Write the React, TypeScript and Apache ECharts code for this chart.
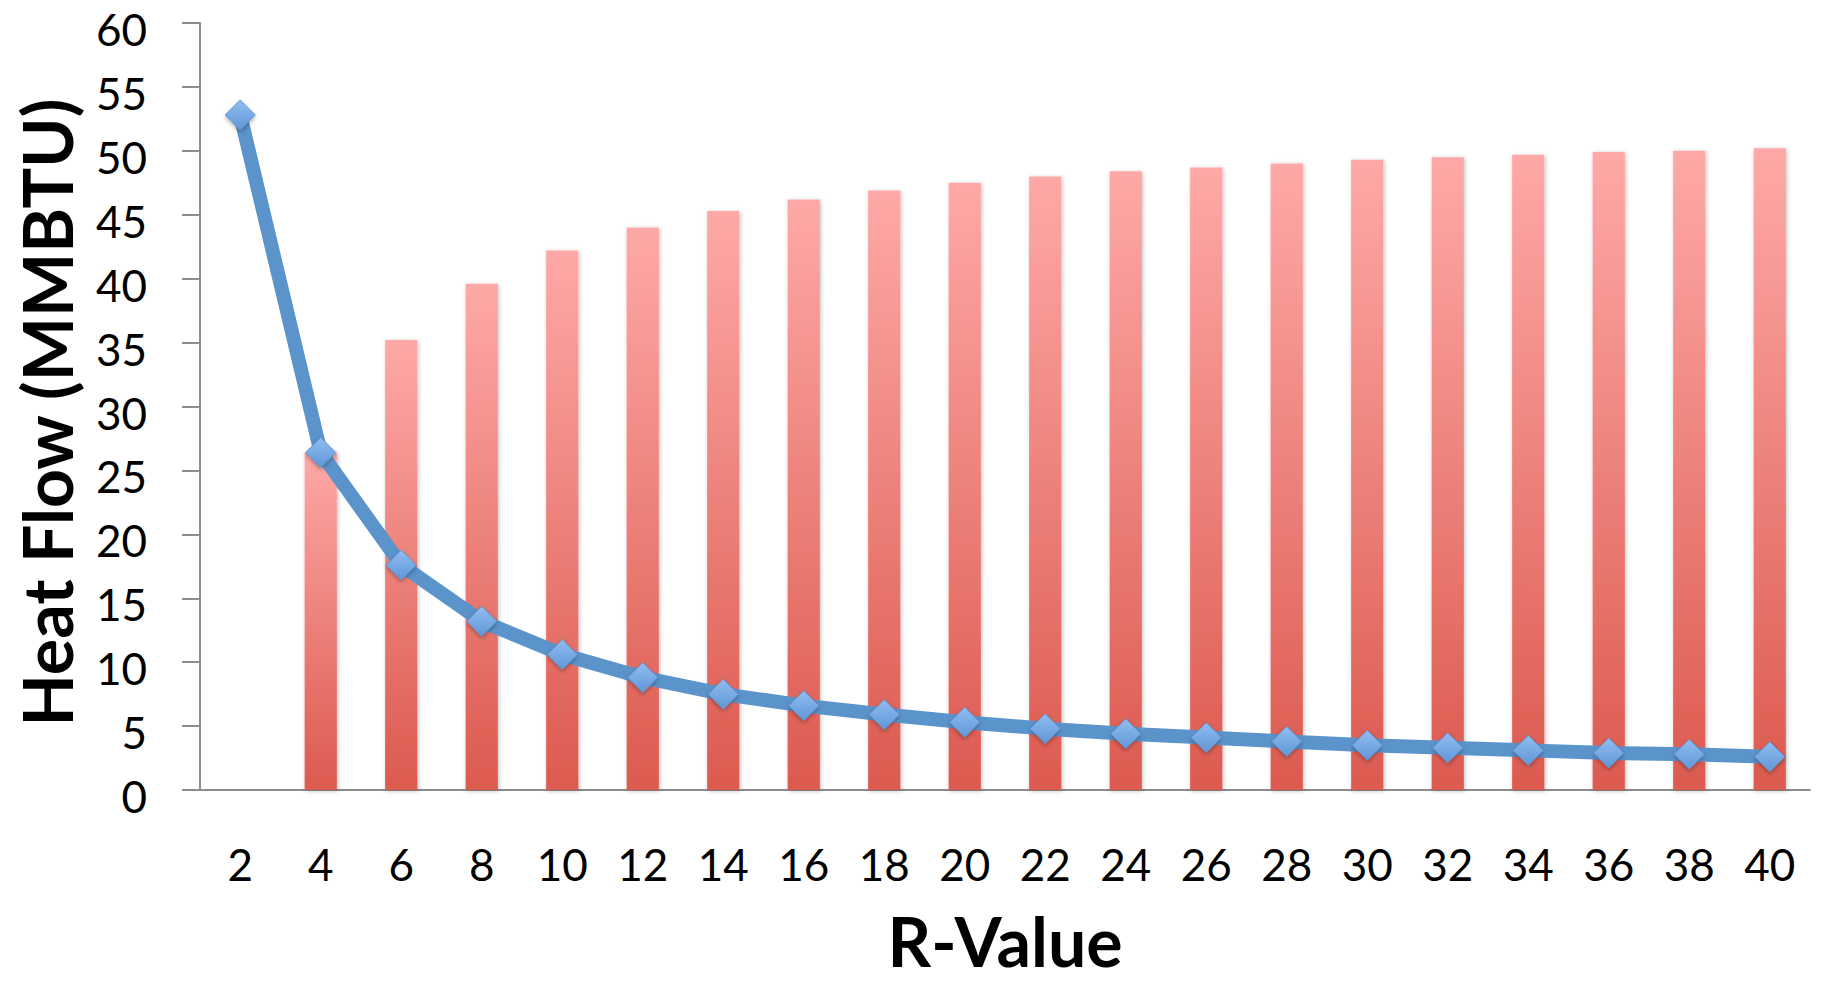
import React, { useEffect, useRef } from "react";
import * as echarts from "echarts";

const rValues = ["2", "4", "6", "8", "10", "12", "14", "16", "18", "20", "22", "24", "26", "28", "30", "32", "34", "36", "38", "40"];
const savings = [null, 26.4, 35.2, 39.6, 42.2, 44.0, 45.3, 46.2, 46.9, 47.5, 48.0, 48.4, 48.7, 49.0, 49.3, 49.5, 49.7, 49.9, 50.0, 50.2];
const heatFlow = [52.8, 26.4, 17.6, 13.2, 10.6, 8.8, 7.5, 6.6, 5.9, 5.3, 4.8, 4.4, 4.1, 3.8, 3.5, 3.3, 3.1, 2.9, 2.8, 2.6];
const yTitle = "Heat Flow (MMBTU)";
const xTitle = "R-Value";

export default function App() {
  const ref = useRef<HTMLDivElement>(null);
  useEffect(() => {
    if (!ref.current) return;
    const chart = echarts.init(ref.current, undefined, { renderer: "svg" });
    const gridColor = "#8c8c8c";
    chart.setOption({
      animation: false,
      textStyle: { fontFamily: "Lato" },
      grid: { left: 200, right: 12, top: 23, bottom: 193, containLabel: false, outerBoundsMode: "none" },
      xAxis: {
        type: "category",
        data: rValues,
        name: xTitle,
        nameLocation: "middle",
        nameGap: 120,
        nameTextStyle: { fontFamily: "Lato", fontWeight: "bold", fontSize: 68, lineHeight: 60, color: "#000" },
        axisLine: { show: true, lineStyle: { color: gridColor, width: 2 } },
        axisTick: { show: false },
        axisLabel: { margin: 52, fontSize: 44, color: "#000", fontFamily: "Lato" },
        splitLine: { show: false },
      },
      yAxis: {
        type: "value",
        min: 0,
        max: 60,
        interval: 5,
        name: yTitle,
        nameLocation: "middle",
        nameGap: 120,
        nameTextStyle: { fontFamily: "Lato", fontWeight: "bold", fontSize: 68, color: "#000", padding: [0, 12, 0, 0] },
        axisLine: { show: true, lineStyle: { color: gridColor, width: 2 } },
        axisTick: { show: true, length: 18, lineStyle: { color: gridColor, width: 2 } },
        axisLabel: {
          margin: 53,
          color: "#000",
          formatter: "{v|{value}}",
          rich: { v: { fontSize: 44, fontFamily: "Lato", color: "#000", padding: [12, 0, 0, 0] } },
        },
        splitLine: {
          show: true,
          lineStyle: { color: gridColor, width: 2, shadowColor: "rgba(0,0,0,0.25)", shadowBlur: 2, shadowOffsetY: 1 },
        },
      },
      series: [
        {
          type: "bar",
          data: savings,
          barWidth: "40%",
          itemStyle: {
            color: new echarts.graphic.LinearGradient(0, 0, 0, 1, [
              { offset: 0, color: "#fea9a7" },
              { offset: 1, color: "#dc5a4f" },
            ]),
            shadowColor: "rgba(0,0,0,0.25)",
            shadowBlur: 4,
            shadowOffsetX: 1,
            shadowOffsetY: 1,
          },
          z: 2,
        },
        {
          type: "line",
          data: heatFlow,
          symbol: "diamond",
          symbolSize: 30,
          lineStyle: { color: "#5b93cb", width: 14 },
          itemStyle: {
            color: new echarts.graphic.LinearGradient(0, 0, 0, 1, [
              { offset: 0, color: "#92bdf0" },
              { offset: 1, color: "#5f97d8" },
            ]),
            borderColor: "#5f95cf",
            borderWidth: 1,
            shadowColor: "rgba(0,0,0,0.3)",
            shadowBlur: 4,
            shadowOffsetY: 2,
          },
          z: 3,
        },
      ],
    });
    return () => chart.dispose();
  }, []);
  return <div ref={ref} style={{ position: "absolute", left: 0, top: 0, width: 1822, height: 983 }} />;
}
